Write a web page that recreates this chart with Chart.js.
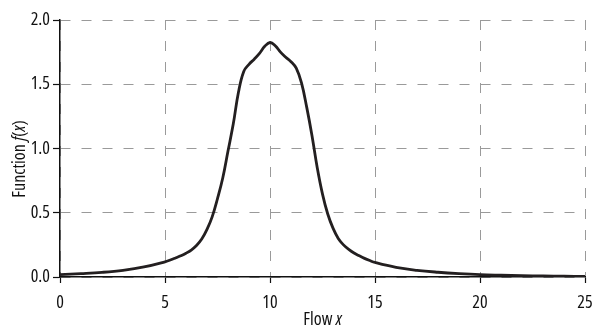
<!DOCTYPE html>
<html>
<head>
<meta charset="utf-8">
<script src="https://cdn.jsdelivr.net/npm/chart.js@4/dist/chart.umd.min.js"></script>
<style>
html,body{margin:0;padding:0;background:#fff;overflow:hidden;}
#wrap{width:593px;height:330px;position:relative;}
</style>
</head>
<body>
<div id="wrap"><canvas id="c" width="593" height="330"></canvas></div>
<script>
const flowX = [0,1,2,3,4,5,5.25,5.5,5.75,6,6.25,6.5,6.75,7,7.25,7.5,7.75,8,8.25,8.5,8.75,9,9.25,9.5,9.75,10,10.25,10.5,10.75,11,11.25,11.5,11.75,12,12.25,12.5,12.75,13,13.25,13.5,13.75,14,14.25,14.5,14.75,15,16,17,18,19,20,21,22,23,24,25];
const fValues = [0.018,0.026,0.036,0.052,0.078,0.118,0.132,0.148,0.165,0.185,0.21,0.245,0.295,0.37,0.47,0.61,0.77,0.98,1.19,1.44,1.60,1.655,1.695,1.74,1.795,1.825,1.80,1.75,1.71,1.675,1.625,1.51,1.32,1.10,0.85,0.645,0.49,0.38,0.30,0.25,0.215,0.187,0.165,0.145,0.128,0.113,0.075,0.052,0.037,0.026,0.018,0.014,0.011,0.008,0.006,0.005];
const xTicks = [0,5,10,15,20,25];
const yTicks = [0,0.5,1.0,1.5,2.0];
// axis titles: [text, italic?] pieces
const xTitleParts = [['Flow ', false], ['x', true]];
const yTitleParts = [['Function ', false], ['f', true], ['(', false], ['x', true], [')', false]];

const FAM = "'Open Sans','DejaVu Sans Condensed',sans-serif";
const SIZE = 18;
const STRETCH = 'condensed';
const points = flowX.map((x,i)=>({x:x,y:fValues[i]}));

function drawParts(ctx, parts, cx, cy, rotate) {
  ctx.save();
  ctx.translate(cx, cy);
  if (rotate) ctx.rotate(-Math.PI/2);
  ctx.fillStyle = '#111';
  ctx.textBaseline = 'middle';
  ctx.textAlign = 'left';
  const fontFor = (it) => (it ? 'italic ' : '') + STRETCH + ' ' + SIZE + 'px ' + FAM;
  let total = 0;
  parts.forEach(([t,it]) => { ctx.font = fontFor(it); total += ctx.measureText(t).width; });
  let x = -total/2;
  parts.forEach(([t,it]) => { ctx.font = fontFor(it); ctx.fillText(t, x, 0); x += ctx.measureText(t).width; });
  ctx.restore();
}

const titlePlugin = {
  id: 'mixedTitles',
  afterDraw(chart) {
    const ctx = chart.ctx;
    const a = chart.chartArea;
    drawParts(ctx, xTitleParts, (a.left + a.right)/2, 320, false);
    drawParts(ctx, yTitleParts, 20, 159, true);
  }
};

new Chart(document.getElementById('c'), {
  type: 'line',
  data: { datasets: [{
    data: points,
    borderColor: '#231f20',
    borderWidth: 2.8,
    pointRadius: 0,
    fill: false,
    tension: 0.4
  }]},
  options: {
    responsive: false,
    animation: false,
    events: [],
    layout: { padding: { top: 20, left: 0, right: 0, bottom: 0 } },
    plugins: { legend: { display: false }, tooltip: { enabled: false } },
    scales: {
      x: {
        type: 'linear', min: 0, max: 25,
        afterBuildTicks: (s) => { s.ticks = xTicks.map(v=>({value:v})); },
        afterFit: (s) => { s.height = 53; s.paddingRight = 8; s.paddingLeft = 0; },
        ticks: { font: { family: FAM, size: SIZE, weight: STRETCH }, color: '#111', padding: 9, maxRotation: 0,
          callback: (v) => String(v) },
        grid: { color: '#9a9a9a', lineWidth: 1, drawTicks: true, tickLength: 6, tickColor: '#111', tickWidth: 1.2 },
        border: { display: true, color: '#111', width: 1.5, dash: [10,11] },
        title: { display: false, text: 'Flow x' }
      },
      y: {
        type: 'linear', min: 0, max: 2,
        afterBuildTicks: (s) => { s.ticks = yTicks.map(v=>({value:v})); },
        afterFit: (s) => { s.width = 60; },
        ticks: { font: { family: FAM, size: SIZE, weight: STRETCH }, color: '#111', padding: 3,
          callback: (v) => Number(v).toFixed(1) },
        grid: { color: '#9a9a9a', lineWidth: 1, drawTicks: true, tickLength: 7, tickColor: '#111', tickWidth: 1.2 },
        border: { display: true, color: '#111', width: 1.5, dash: [10,11] },
        title: { display: false, text: 'Function f(x)' }
      }
    }
  },
  plugins: [titlePlugin]
});
</script>
</body>
</html>
